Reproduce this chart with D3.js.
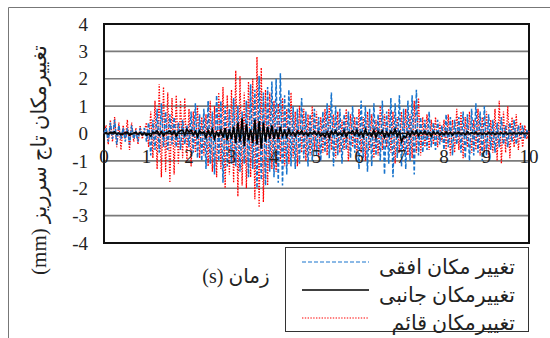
<!DOCTYPE html>
<html><head><meta charset="utf-8">
<script src="https://cdn.jsdelivr.net/npm/d3@7"></script>
<style>body{margin:0;background:#fff}svg{display:block}</style>
</head><body>
<svg id="c" width="550" height="338"></svg>
<script>
const yTicks = [-4,-3,-2,-1,0,1,2,3,4];
const xTicks = [0,1,2,3,4,5,6,7,8,9,10];
const seriesNames = ["تغییر مکان افقی","تغییرمکان جانبی","تغییرمکان قائم"];
const yTitle = "تغییرمکان تاج سرریز (mm)";
const xTitle = "زمان (s)";
// sampling grid: 0.05 s
const times = d3.range(0, 201).map(i => +(i*0.05).toFixed(2));
const horizontal = [
0,0.2,-0.3,0.4,-0.2,0.5,-0.4,0.3,-0.2,0.2,-0.3,0.2,-0.4,0.3,-0.2,0.1,-0.3,0.2,-0.1,0.2,
-0.3,0.4,-0.8,0.5,-0.6,0.9,-0.7,1.1,-0.5,0.8,-0.6,0.7,-0.4,0.6,-0.5,0.4,-0.6,0.5,-0.4,0.3,
-0.5,0.8,-0.7,1.1,-0.9,0.7,-1.0,0.9,-1.3,1.2,-1.1,0.8,-1.5,1.4,-1.0,1.2,-1.8,1.0,-1.2,0.9,
-1.1,1.3,-1.2,1.0,-1.4,0.8,-1.1,1.2,-1.6,1.8,-1.3,1.6,-2.0,2.1,-1.7,1.5,-1.9,1.7,-1.4,1.9,
-1.6,2.0,-1.8,2.2,-1.9,1.4,-1.5,1.6,-1.2,1.0,-1.3,0.9,-1.1,1.3,-0.9,0.8,-1.2,0.7,-1.0,0.9,
-0.8,0.6,-1.0,0.8,-0.7,1.1,-0.9,1.5,-1.2,1.0,-0.8,0.9,-1.1,0.7,-0.6,0.8,-0.9,1.0,-0.7,0.6,
-1.3,1.2,-0.9,1.0,-1.4,0.9,-1.2,1.1,-0.8,0.7,-1.0,1.2,-1.5,0.8,-1.1,1.3,-1.6,1.1,-0.9,1.4,
-1.2,0.9,-1.3,1.2,-1.0,1.4,-1.5,1.6,-0.8,0.6,-0.7,0.5,-0.6,0.8,-0.5,0.4,-0.6,0.5,-0.4,0.3,
-0.6,0.7,-0.5,0.6,-0.8,0.5,-0.4,0.6,-0.7,0.8,-0.9,0.7,-1.0,0.9,-0.8,1.1,-0.7,0.8,-1.0,1.0,
-0.8,0.7,-0.6,0.5,-0.7,0.4,-0.5,0.6,-0.4,0.3,-0.5,0.4,-0.3,0.5,-0.4,0.3,-0.2,0.3,-0.2,0.1,
0];
const lateral = [
0,0.03,-0.02,0.05,0.02,0.06,-0.03,0.02,-0.05,-0.02,0.03,0.05,-0.06,-0.02,0.02,0.04,-0.03,0.03,-0.05,0.02,
-0.06,-0.02,-0.1,0.05,0.02,0.1,-0.05,0.06,-0.08,0.02,0.05,0.1,-0.04,0.08,-0.1,0.05,0.1,0.12,-0.05,0.15,
0.05,0.12,-0.05,0.08,-0.12,0.1,0.02,0.06,-0.15,0.12,-0.08,0.15,-0.2,0.05,-0.1,0.12,-0.15,0.2,-0.25,0.15,
-0.2,0.25,-0.35,0.4,-0.3,0.55,-0.45,0.35,-0.25,0.15,-0.35,0.5,-0.4,0.45,-0.55,0.4,-0.3,0.25,-0.2,0.3,
-0.2,0.15,-0.2,0.25,-0.1,0.1,-0.12,0.15,-0.05,0.05,-0.1,0.08,-0.02,0.1,-0.05,0.03,-0.08,0.05,-0.02,0.08,
-0.05,0.06,-0.1,-0.02,-0.12,0.05,-0.15,0.08,-0.03,0.1,-0.06,0.02,-0.08,0.1,-0.12,0.05,0.02,0.1,-0.05,0.12,
-0.08,0.05,-0.12,0.15,-0.05,0.02,-0.1,0.12,-0.15,0.08,-0.02,0.1,-0.14,0.05,-0.1,0.08,-0.03,0.15,-0.1,0.05,
-0.3,-0.1,-0.15,0.05,-0.1,0.08,-0.04,0.1,-0.08,0.05,-0.02,0.08,-0.05,0.03,-0.1,0.06,-0.02,0.05,-0.06,0.03,
-0.05,0.06,-0.02,0.05,-0.06,0.03,0.0,0.05,-0.03,0.02,-0.05,0.06,-0.02,0.03,-0.01,0.05,-0.03,0.02,-0.04,0.02,
-0.03,0.04,-0.02,0.03,-0.04,0.02,-0.01,0.03,-0.02,0.04,-0.03,0.01,-0.02,0.03,-0.01,0.02,-0.01,0.02,-0.01,0.01,
0];
const vertical = [
0,0.3,-0.4,0.5,-0.3,0.6,-0.5,0.4,-0.6,0.3,-0.2,0.5,-0.6,0.4,-0.3,0.2,-0.4,0.3,-0.2,0.1,
0.4,-0.5,0.8,-0.9,1.2,-1.3,1.8,-1.6,1.7,-1.4,1.5,-1.8,1.3,-1.5,1.4,-1.1,1.2,-0.9,1.3,-1.0,
0.9,-1.2,0.8,-0.7,1.0,-0.9,0.6,-0.8,0.7,-1.2,1.2,-1.4,1.0,-1.6,1.5,-1.3,1.7,-2.0,1.4,-1.5,
1.6,-1.8,2.3,-2.3,2.1,-1.9,1.5,-2.0,1.9,-1.6,2.0,-2.4,2.8,-2.7,2.4,-2.5,1.6,-1.9,1.5,-1.3,
1.2,-1.4,1.1,-1.0,1.3,-1.2,0.9,-1.1,1.5,-0.9,0.8,-1.2,1.0,-0.7,0.9,-1.0,0.7,-0.8,1.0,-0.6,
0.8,-0.9,0.6,-0.7,0.9,-0.8,1.0,-0.6,0.7,-0.9,0.8,-0.7,0.5,-0.6,0.9,-1.0,0.7,-0.5,0.6,-0.8,
0.9,-0.7,0.6,-1.0,0.8,-0.6,0.7,-0.9,0.5,-0.8,1.0,-0.6,0.7,-0.5,0.9,-0.7,0.8,-1.1,0.6,-0.7,
0.8,-0.6,0.9,-0.8,0.7,-0.9,1.2,-0.7,1.3,-0.8,0.6,-0.5,0.7,-0.6,0.5,-0.4,0.6,-0.5,0.4,-0.3,
0.5,-0.6,0.7,-0.8,0.5,-0.7,0.9,-0.6,0.8,-0.9,0.6,-0.5,0.8,-0.7,0.5,-0.6,0.9,-0.8,0.6,-0.7,
0.8,-0.9,0.5,-0.7,0.9,-1.0,1.2,-1.1,0.8,-0.7,1.0,-0.9,0.6,-0.5,0.7,-0.6,0.4,-0.5,0.3,-0.2,
0.1];
const seriesColors = ["#1874CD","#000000","#FF0000"];

const svg = d3.select("#c");
const L = 104, R = 529, T = 24, B = 243;
const x = d3.scaleLinear().domain([0,10]).range([L,R]);
const y = d3.scaleLinear().domain([-4,4]).range([B,T]);
const serif = "'Liberation Serif','Times New Roman','DejaVu Sans',serif";

// outer frame
svg.append("path").attr("d","M8.5,338 V7.5 H550").attr("fill","none").attr("stroke","#777").attr("stroke-width",1);

// gridlines
svg.append("g").selectAll("line").data(yTicks.filter(v=>v!==0 && v!==4 && v!==-4)).join("line")
  .attr("x1",L).attr("x2",R).attr("y1",d=>y(d)).attr("y2",d=>y(d))
  .attr("stroke","#7a7a7a").attr("stroke-width",1.6);

// plot border
svg.append("rect").attr("x",L).attr("y",T).attr("width",R-L).attr("height",B-T)
  .attr("fill","none").attr("stroke","#111").attr("stroke-width",2);

// y tick labels
svg.append("g").selectAll("text").data(yTicks).join("text")
  .attr("x",88).attr("y",d=>y(d)).attr("dy","0.35em").attr("text-anchor","end")
  .attr("font-family",serif).attr("font-size",19).attr("fill","#222")
  .text(d=>d);

const line = d3.line().x((d,i)=>x(times[i])).y(d=>y(d));
const data = [horizontal, lateral, vertical];
const dashes = ["4,2", null, "1.4,1.4"];
const widths = [1.5, 1.6, 1.3];
const order = [2,0,1];
order.forEach(k=>{
  svg.append("path").datum(data[k]).attr("d",line).attr("fill","none")
    .attr("stroke",seriesColors[k]).attr("stroke-width",widths[k])
    .attr("stroke-dasharray",dashes[k]);
});

// x axis line at 0
svg.append("line").attr("x1",L).attr("x2",R).attr("y1",y(0)).attr("y2",y(0))
  .attr("stroke","#111").attr("stroke-width",1.5);

// x tick labels
svg.append("g").selectAll("text").data(xTicks).join("text")
  .attr("x",d=>x(d)).attr("y",163).attr("text-anchor","middle")
  .attr("font-family",serif).attr("font-size",19).attr("fill","#222")
  .text(d=>d);

// y title
svg.append("text").attr("transform","translate(46,160) rotate(-90)")
  .attr("text-anchor","middle").attr("direction","rtl").style("unicode-bidi","embed")
  .attr("font-family",serif).attr("font-size",21).attr("fill","#222").text(yTitle);

// x title
svg.append("text").attr("x",236).attr("y",283).attr("text-anchor","middle")
  .attr("direction","rtl").style("unicode-bidi","embed")
  .attr("font-family",serif).attr("font-size",20).attr("fill","#222").text(xTitle);

// legend
const lg = svg.append("g");
lg.append("rect").attr("x",285.5).attr("y",247.5).attr("width",243).attr("height",84)
  .attr("fill","#fff").attr("stroke","#333").attr("stroke-width",1);
const ly = [262,290,318];
seriesNames.forEach((n,k)=>{
  lg.append("line").attr("x1",302).attr("x2",369).attr("y1",ly[k]).attr("y2",ly[k])
    .attr("stroke",seriesColors[k]).attr("stroke-width",k===1?1.5:1.2).attr("stroke-dasharray",dashes[k]);
  lg.append("text").attr("x",515).attr("y",ly[k]+12).attr("text-anchor","end")
    .attr("font-family",serif).attr("font-size",20.5).attr("fill","#222").text(n);
});
</script>
</body></html>
